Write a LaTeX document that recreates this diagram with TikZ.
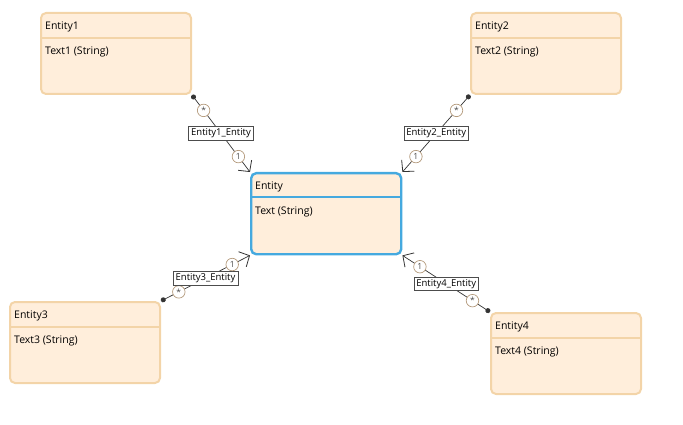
\documentclass[tikz,border=0pt]{standalone}
\usepackage{fontspec}
\setmainfont{Open Sans}
\usetikzlibrary{arrows.meta,calc}
\definecolor{entfill}{HTML}{FFEEDB}
\definecolor{entline}{HTML}{F3D4A8}
\definecolor{selline}{HTML}{45A9DF}
\definecolor{multline}{HTML}{B49A7C}
\newcommand{\manymult}{\raisebox{-0.35ex}{*}}
\tikzset{
  entity/.style={draw=entline, line width=2pt, fill=entfill, rounded corners=5pt,
    minimum width=150pt, minimum height=81pt, anchor=north west, inner sep=0pt},
  selected/.style={draw=selline, line width=2.4pt},
  title/.style={anchor=west, font=\fontsize{10.5}{12}\selectfont, inner sep=0pt},
  prop/.style={anchor=west, font=\fontsize{10.5}{12}\selectfont, inner sep=0pt},
  assoc/.style={draw=black!80, line width=0.7pt,
    {Circle[length=5pt]}-{Straight Barb[length=8pt,width=17pt,line width=0.8pt]}},
  relname/.style={draw=black!70, fill=white, line width=0.6pt, font=\fontsize{9.5}{10}\selectfont,
    inner xsep=2.5pt, inner ysep=2.2pt},
  mult/.style={circle, draw=multline, fill=white, line width=0.7pt, inner sep=0pt,
    minimum size=12.5pt, text=black!70, font=\fontsize{8.5}{9}\selectfont}
}
\begin{document}
\begin{tikzpicture}[x=1pt,y=-1pt]
\useasboundingbox (0,0) rectangle (683,425);

% entity boxes
\node[entity] (e1) at (40,12) {};
\node[entity] (e2) at (470,12) {};
\node[entity,selected] (e) at (250,172) {};
\node[entity] (e3) at (9,301) {};
\node[entity] (e4) at (490,312) {};

% header separators
\foreach \n in {e1,e2,e3,e4}
  \draw[entline, line width=2pt] ($(\n.north west)+(0,26)$) -- ($(\n.north east)+(0,26)$);
\draw[selline, line width=2pt] ($(e.north west)+(0,25)$) -- ($(e.north east)+(0,25)$);

% titles and properties
\node[title] (t1) at ($(e1.north west)+(5,15)$) {Entity1};
\node[prop]  (p1) at ($(e1.north west)+(5,40)$) {Text1 (String)};
\node[title] (t2) at ($(e2.north west)+(5,15)$) {Entity2};
\node[prop]  (p2) at ($(e2.north west)+(5,40)$) {Text2 (String)};
\node[title] (t0) at ($(e.north west)+(5,15)$) {Entity};
\node[prop]  (p0) at ($(e.north west)+(5,40)$) {Text (String)};
\node[title] (t3) at ($(e3.north west)+(5,15)$) {Entity3};
\node[prop]  (p3) at ($(e3.north west)+(5,40)$) {Text3 (String)};
\node[title] (t4) at ($(e4.north west)+(5,15)$) {Entity4};
\node[prop]  (p4) at ($(e4.north west)+(5,40)$) {Text4 (String)};

% associations
\draw[assoc] (e1.south east) -- (e.north west)
  node[mult,pos=0.2] {\manymult} node[relname,pos=0.5] {Entity1\_Entity} node[mult,pos=0.8] {1};
\draw[assoc] (e2.south west) -- (e.north east)
  node[mult,pos=0.2] {\manymult} node[relname,pos=0.5] {Entity2\_Entity} node[mult,pos=0.8] {1};
\draw[assoc] (e3.north east) -- (e.south west)
  node[mult,pos=0.2] {\manymult} node[relname,pos=0.5] {Entity3\_Entity} node[mult,pos=0.8] {1};
\draw[assoc] (e4.north west) -- (e.south east)
  node[mult,pos=0.2] {\manymult} node[relname,pos=0.5] {Entity4\_Entity} node[mult,pos=0.8] {1};
\end{tikzpicture}
\end{document}
